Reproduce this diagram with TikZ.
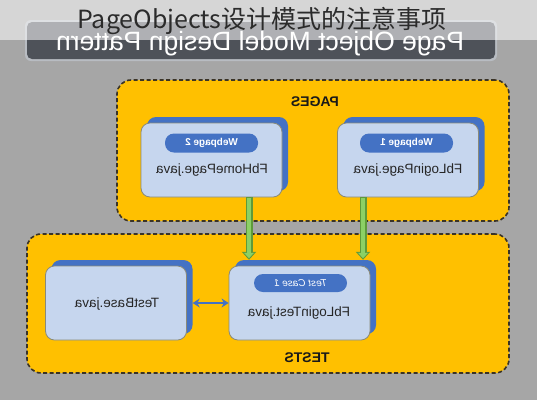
\documentclass[tikz,border=0pt]{standalone}
\usepackage{graphicx}
\usepackage{fontspec}
\setmainfont{Liberation Sans}
\newfontfamily\cjk{Noto Sans CJK SC}
\usetikzlibrary{arrows.meta}
\definecolor{bg}{HTML}{A6A6A6}
\definecolor{barcol}{HTML}{4E5259}
\definecolor{barrim}{HTML}{B8BCC2}
\definecolor{orange}{HTML}{FFC000}
\definecolor{dashcol}{HTML}{3A3326}
\definecolor{front}{HTML}{C6D6EE}
\definecolor{frontrim}{HTML}{8A8A78}
\definecolor{shadowblue}{HTML}{4472C4}
\definecolor{lgreen}{HTML}{8CD065}
\definecolor{dgreen}{HTML}{5E9A3A}
\definecolor{titlecol}{HTML}{2B2B2B}
\tikzset{
  container/.style={draw=dashcol, dashed, line width=1.6pt, dash pattern=on 4pt off 2.5pt, fill=orange, rounded corners=14pt},
  shadowbox/.style={fill=shadowblue, rounded corners=9pt, minimum width=141pt, minimum height=74pt, inner sep=0pt},
  frontbox/.style={fill=front, draw=frontrim, line width=0.8pt, rounded corners=9pt, minimum width=141pt, minimum height=74pt, inner sep=0pt},
  pill/.style={fill=shadowblue, rounded corners=9pt, minimum width=93pt, minimum height=19pt, inner sep=0pt, text=white, font=\bfseries\fontsize{10}{10}\selectfont},
  boxtext/.style={font=\fontsize{13.5}{13.5}\selectfont, text=black!85},
  grouplabel/.style={font=\bfseries\fontsize{14}{14}\selectfont, text=black!90},
  garrowout/.style={dgreen, line width=7pt, -{Triangle[width=14pt,length=8pt]}},
  garrowin/.style={lgreen, line width=4.5pt, shorten >=1.5pt, -{Triangle[width=9.5pt,length=5.5pt]}},
  barrow/.style={shadowblue, line width=2.6pt, {Stealth[width=9pt,length=7pt]}-{Stealth[width=9pt,length=7pt]}}
}
\begin{document}
\begin{tikzpicture}[x=1pt,y=-1pt]
\useasboundingbox (0,0) rectangle (537,400);
\fill[bg] (0,0) rectangle (537,400);
% title bar
\fill[barrim, rounded corners=6pt] (25,20) rectangle (497,61);
\fill[barcol, rounded corners=5pt] (27,22) rectangle (495,59);
\node[text=white, font=\fontsize{26.5}{26.5}\selectfont] (bartitle) at (260,44) {\reflectbox{Page Object Model Design Pattern}};
% containers
\node[container, minimum width=392pt, minimum height=141pt] (pages) at (313,150.5) {};
\node[grouplabel] (pageslabel) at (315,102) {\reflectbox{PAGES}};
\node[container, minimum width=482pt, minimum height=139pt] (tests) at (268,303.5) {};
\node[grouplabel] (testslabel) at (307,358) {\reflectbox{TESTS}};
% webpage 2
\node[shadowbox] (w2s) at (217.5,154) {};
\node[frontbox] (w2) at (211.5,160) {};
\node[pill] (w2p) at (211.5,143) {\reflectbox{Webpage 2}};
\node[boxtext] (w2t) at (212,170) {\reflectbox{FbHomePage.java}};
% webpage 1
\node[shadowbox] (w1s) at (414,154) {};
\node[frontbox] (w1) at (408,160) {};
\node[pill] (w1p) at (406.5,143) {\reflectbox{Webpage 1}};
\node[boxtext] (w1t) at (408,170) {\reflectbox{FbLoginPage.java}};
% testbase
\node[shadowbox] (tbs) at (122,297) {};
\node[frontbox] (tb) at (116,303) {};
\node[boxtext] (tbt) at (117,304) {\reflectbox{TestBase.java}};
% fblogintest
\node[shadowbox] (tcs) at (305.5,297) {};
\node[frontbox] (tc) at (299.5,303) {};
\node[pill, minimum height=18pt] (tcp) at (300.5,283) {\reflectbox{\mdseries\itshape Test Case 1}};
\node[boxtext] (tct) at (299,313) {\reflectbox{FbLoginTest.java}};
% green arrows
\draw[garrowout] ([xshift=37.5pt]w2.south) -- ([xshift=-56.5pt]tcs.north);
\draw[garrowin] ([xshift=37.5pt,yshift=-1pt]w2.south) -- ([xshift=-56.5pt]tcs.north);
\draw[garrowout] ([xshift=-45pt]w1.south) -- ([xshift=57.5pt]tcs.north);
\draw[garrowin] ([xshift=-45pt,yshift=-1pt]w1.south) -- ([xshift=57.5pt]tcs.north);
% blue double arrow
\draw[barrow] (tbs.east |- tb.center) -- (tc.west);
% overlay and title
\fill[white, opacity=0.55] (0,0) rectangle (537,40);
\node[text=titlecol, font=\cjk\fontsize{25}{25}\selectfont] (title) at (262,21.5) {PageObjects设计模式的注意事项};
\end{tikzpicture}
\end{document}
